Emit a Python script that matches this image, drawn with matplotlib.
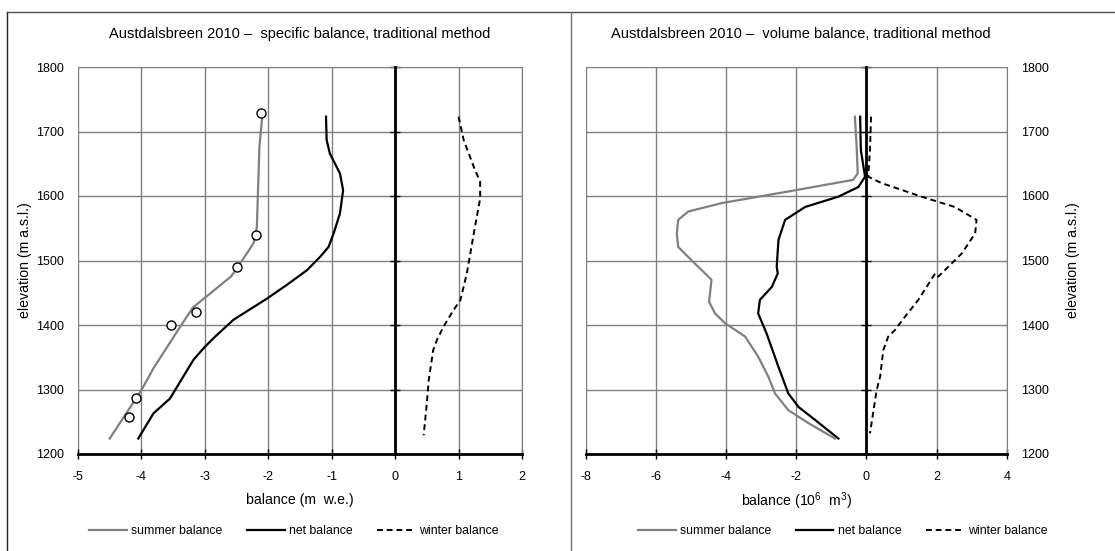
import matplotlib
matplotlib.use("Agg")
import matplotlib.pyplot as plt
from matplotlib.lines import Line2D

plt.rcParams["font.family"] = ["Liberation Sans", "DejaVu Sans"]
plt.rcParams["mathtext.fontset"] = "custom"
plt.rcParams["mathtext.rm"] = "Liberation Sans"
plt.rcParams["mathtext.it"] = "Liberation Sans"
plt.rcParams["axes.unicode_minus"] = False

# ---- specific balance (m w.e.) vs elevation ----
sp_summer_x = [-2.09, -2.14, -2.18, -2.23, -2.55, -2.59, -3.19, -3.39, -3.81, -4.00, -4.50]
sp_summer_y = [1728, 1676, 1552, 1527, 1480, 1475, 1427, 1397, 1333, 1299, 1224]
sp_obs_x = [-2.11, -2.19, -2.50, -3.14, -3.53, -4.09, -4.20]
sp_obs_y = [1729, 1540, 1490, 1420, 1400, 1287, 1257]
sp_net_x = [-1.09, -1.08, -1.03, -0.87, -0.82, -0.87, -0.97, -1.05, -1.18, -1.39, -1.71,
            -2.02, -2.55, -2.87, -3.02, -3.18, -3.55, -3.81, -4.05]
sp_net_y = [1723, 1687, 1666, 1635, 1609, 1573, 1542, 1521, 1506, 1485, 1462,
            1441, 1408, 1379, 1364, 1346, 1286, 1263, 1224]
sp_winter_x = [1.00, 1.08, 1.24, 1.34, 1.34, 1.24, 1.13, 1.03, 0.92, 0.76, 0.66, 0.60,
               0.53, 0.50, 0.45]
sp_winter_y = [1723, 1687, 1645, 1622, 1596, 1542, 1480, 1439, 1423, 1397, 1377, 1361,
               1315, 1279, 1229]

# ---- volume balance (10^6 m^3) vs elevation ----
vol_summer_x = [-0.33, -0.28, -0.25, -0.38, -2.23, -4.13, -5.08, -5.37, -5.41, -5.37,
                -4.89, -4.51, -4.42, -4.49, -4.32, -4.04, -3.46, -3.09, -2.80, -2.61,
                -2.23, -1.66, -0.90]
vol_summer_y = [1723, 1676, 1635, 1625, 1607, 1589, 1576, 1563, 1542, 1521,
                1495, 1475, 1470, 1436, 1418, 1403, 1382, 1351, 1320, 1294,
                1268, 1248, 1224]
vol_net_x = [-0.18, -0.16, -0.04, -0.23, -0.80, -1.75, -2.32, -2.51, -2.56, -2.53, -2.70,
             -3.04, -3.09, -2.85, -2.51, -2.23, -1.94, -1.47, -0.80]
vol_net_y = [1723, 1671, 1630, 1614, 1599, 1583, 1563, 1532, 1490, 1480, 1459,
             1439, 1418, 1387, 1335, 1294, 1273, 1253, 1224]
vol_winter_x = [0.13, 0.10, 0.05, 0.43, 1.57, 2.52, 3.14, 3.10, 2.72, 2.05, 1.96, 1.48,
                1.10, 0.81, 0.62, 0.48, 0.39, 0.29, 0.10]
vol_winter_y = [1723, 1671, 1630, 1620, 1599, 1583, 1563, 1542, 1511, 1475, 1480, 1439,
                1413, 1392, 1382, 1361, 1320, 1299, 1232]

elev_ticks = [1200, 1300, 1400, 1500, 1600, 1700, 1800]
series_names = ["summer balance", "net balance", "winter balance"]
GRAY = "#808080"

fig = plt.figure(figsize=(11.15, 5.51), dpi=100)

# panel frames
fig.add_artist(Line2D([7/1115, 7/1115], [0, 1 - 12/551], color="#202020", lw=1))
fig.add_artist(Line2D([7/1115, 1], [1 - 12/551, 1 - 12/551], color="#505050", lw=1))
fig.add_artist(Line2D([571.5/1115, 571.5/1115], [0, 1 - 12/551], color="#707070", lw=1))


def style_axes(ax, xlim, xticks, label_side):
    ax.set_xlim(*xlim)
    ax.set_ylim(1200, 1800)
    ax.set_xticks(xticks)
    ax.set_yticks(elev_ticks)
    ax.grid(True, color=GRAY, lw=1)
    ax.set_axisbelow(True)
    for s in ["top", "right"]:
        ax.spines[s].set_color(GRAY)
    ax.spines["bottom"].set_color("black")
    ax.spines["bottom"].set_linewidth(2)
    # vertical axis crosses at zero, like the Excel original
    ax.spines["left"].set_position(("data", 0))
    ax.spines["left"].set_color("black")
    ax.spines["left"].set_linewidth(2)
    ax.spines["left"].set_zorder(3)
    ax.tick_params(axis="x", direction="inout", length=7, width=1, labelsize=9, pad=9)
    ax.tick_params(axis="y", direction="inout", length=7, width=1, labelleft=False)
    sec = ax.secondary_yaxis(label_side)
    sec.set_yticks(elev_ticks)
    sec.spines[label_side].set_visible(False)
    sec.tick_params(length=0, labelsize=9, pad=10)
    ax.set_ylabel("elevation (m a.s.l.)", fontsize=10.2)
    if label_side == "right":
        ax.yaxis.set_label_position("right")
        ax.yaxis.label.set_rotation(90)
        ax.yaxis.set_label_coords(1.14, 0.5)
    else:
        ax.yaxis.set_label_coords(-0.104, 0.5)


def add_legend(ax, handles, xc):
    ax.legend(handles, series_names, loc="center", bbox_to_anchor=(xc, -0.2),
              ncol=3, frameon=False, fontsize=8.8, handlelength=3.1,
              columnspacing=2.0, handletextpad=0.35)


# left: specific balance
ax1 = fig.add_axes([78/1115, 1 - 454/551, 444/1115, 387/551])
style_axes(ax1, (-5, 2), range(-5, 3), "left")
l1, = ax1.plot(sp_summer_x, sp_summer_y, color=GRAY, lw=1.6)
l2, = ax1.plot(sp_net_x, sp_net_y, color="black", lw=1.6)
l3, = ax1.plot(sp_winter_x, sp_winter_y, color="black", lw=1.4, dashes=(3, 2))
ax1.plot(sp_obs_x, sp_obs_y, "o", mfc="white", mec="black", ms=6.5, mew=1)
ax1.set_title("Austdalsbreen 2010 \u2013  specific balance, traditional method",
              fontsize=10.5, pad=21)
ax1.set_xlabel("balance (m  w.e.)", fontsize=10.2, labelpad=7)
add_legend(ax1, [l1, l2, l3], 0.486)

# right: volume balance
ax2 = fig.add_axes([586/1115, 1 - 454/551, 420.7/1115, 387/551])
style_axes(ax2, (-8, 4), range(-8, 5, 2), "right")
r1, = ax2.plot(vol_summer_x, vol_summer_y, color=GRAY, lw=1.6)
r2, = ax2.plot(vol_net_x, vol_net_y, color="black", lw=1.6)
r3, = ax2.plot(vol_winter_x, vol_winter_y, color="black", lw=1.4, dashes=(3, 2))
ax2.set_title("Austdalsbreen 2010 \u2013  volume balance, traditional method",
              fontsize=10.5, pad=21, x=0.51)
ax2.set_xlabel(r"balance (10$^6$  m$^3$)", fontsize=10.2, labelpad=5)
add_legend(ax2, [r1, r2, r3], 0.61)

fig.savefig("out.png", dpi=100)
